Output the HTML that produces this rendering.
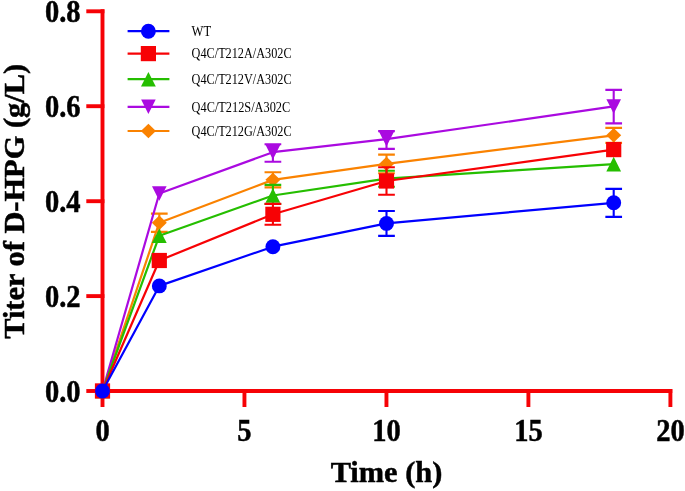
<!DOCTYPE html>
<html><head><meta charset="utf-8"><style>
html,body{margin:0;padding:0;background:#fff;width:685px;height:491px;overflow:hidden}
svg{display:block;filter:blur(0.3px)}
.lg{font-family:"Liberation Serif",serif;font-size:14px;fill:#000}
.tk{font-family:"Liberation Serif",serif;font-size:31px;font-weight:bold;fill:#000;stroke:#000;stroke-width:0.5px}
.ti{font-family:"Liberation Serif",serif;font-size:30.4px;font-weight:bold;fill:#000;stroke:#000;stroke-width:0.5px}
</style></head><body>
<svg width="685" height="491" viewBox="0 0 685 491">
<g stroke="#f60206" stroke-width="3.9" fill="none" stroke-linecap="butt">
<path d="M102.5,9.3 V393"/>
<path d="M100.55,391 H672.3"/>
<path d="M86.3,11.3 H104.4"/>
<path d="M86.3,106.2 H104.4"/>
<path d="M86.3,201.2 H104.4"/>
<path d="M86.3,296.1 H104.4"/>
<path d="M86.3,391.0 H104.4"/>
<path d="M102.5,389.1 V407"/>
<path d="M244.45,389.1 V407"/>
<path d="M386.45,389.1 V407"/>
<path d="M528.4,389.1 V407"/>
<path d="M670.4,389.1 V407"/>
</g>
<g>
<path d="M102.50,391.00 L159.30,222.70 L272.90,179.85 L386.50,163.90 L613.70,135.30" stroke="#fa8200" stroke-width="2.2" fill="none" stroke-linejoin="round"/>
<path d="M159.30,213.60 V231.90 M150.95,213.60 H167.65 M150.95,231.90 H167.65" stroke="#fa8200" stroke-width="2.1" fill="none"/>
<path d="M272.90,172.30 V187.40 M264.55,172.30 H281.25 M264.55,187.40 H281.25" stroke="#fa8200" stroke-width="2.1" fill="none"/>
<path d="M386.50,154.60 V173.20 M378.15,154.60 H394.85 M378.15,173.20 H394.85" stroke="#fa8200" stroke-width="2.1" fill="none"/>
<path d="M613.70,127.90 V142.90 M605.35,127.90 H622.05 M605.35,142.90 H622.05" stroke="#fa8200" stroke-width="2.1" fill="none"/>
<polygon points="102.50,383.80 110.00,391.00 102.50,398.20 95.00,391.00" fill="#fa8200"/>
<polygon points="159.30,215.50 166.80,222.70 159.30,229.90 151.80,222.70" fill="#fa8200"/>
<polygon points="272.90,172.65 280.40,179.85 272.90,187.05 265.40,179.85" fill="#fa8200"/>
<polygon points="386.50,156.70 394.00,163.90 386.50,171.10 379.00,163.90" fill="#fa8200"/>
<polygon points="613.70,128.10 621.20,135.30 613.70,142.50 606.20,135.30" fill="#fa8200"/>
</g>
<g>
<path d="M102.50,391.00 L159.30,193.50 L272.90,152.20 L386.50,139.20 L613.70,106.45" stroke="#aa0ae0" stroke-width="2.2" fill="none" stroke-linejoin="round"/>
<path d="M272.90,144.30 V161.80 M264.55,144.30 H281.25 M264.55,161.80 H281.25" stroke="#aa0ae0" stroke-width="2.1" fill="none"/>
<path d="M386.50,131.10 V148.90 M378.15,131.10 H394.85 M378.15,148.90 H394.85" stroke="#aa0ae0" stroke-width="2.1" fill="none"/>
<path d="M613.70,89.90 V123.40 M605.35,89.90 H622.05 M605.35,123.40 H622.05" stroke="#aa0ae0" stroke-width="2.1" fill="none"/>
<polygon points="95.20,383.80 109.80,383.80 102.50,398.20" fill="#aa0ae0"/>
<polygon points="152.00,186.30 166.60,186.30 159.30,200.70" fill="#aa0ae0"/>
<polygon points="265.60,145.00 280.20,145.00 272.90,159.40" fill="#aa0ae0"/>
<polygon points="379.20,132.00 393.80,132.00 386.50,146.40" fill="#aa0ae0"/>
<polygon points="606.40,99.25 621.00,99.25 613.70,113.65" fill="#aa0ae0"/>
</g>
<g>
<path d="M102.50,391.00 L159.30,235.80 L272.90,195.50 L386.50,178.70 L613.70,164.10" stroke="#25be00" stroke-width="2.2" fill="none" stroke-linejoin="round"/>
<path d="M272.90,184.90 V204.00 M264.55,184.90 H281.25 M264.55,204.00 H281.25" stroke="#25be00" stroke-width="2.1" fill="none"/>
<path d="M386.50,170.70 V186.70 M378.15,170.70 H394.85 M378.15,186.70 H394.85" stroke="#25be00" stroke-width="2.1" fill="none"/>
<polygon points="102.50,383.70 109.90,398.30 95.10,398.30" fill="#25be00"/>
<polygon points="159.30,228.50 166.70,243.10 151.90,243.10" fill="#25be00"/>
<polygon points="272.90,188.20 280.30,202.80 265.50,202.80" fill="#25be00"/>
<polygon points="386.50,171.40 393.90,186.00 379.10,186.00" fill="#25be00"/>
<polygon points="613.70,156.80 621.10,171.40 606.30,171.40" fill="#25be00"/>
</g>
<g>
<path d="M102.50,391.00 L159.30,260.50 L272.90,214.30 L386.50,181.00 L613.70,149.60" stroke="#f70205" stroke-width="2.2" fill="none" stroke-linejoin="round"/>
<path d="M272.90,203.90 V224.70 M264.55,203.90 H281.25 M264.55,224.70 H281.25" stroke="#f70205" stroke-width="2.1" fill="none"/>
<path d="M386.50,167.20 V194.80 M378.15,167.20 H394.85 M378.15,194.80 H394.85" stroke="#f70205" stroke-width="2.1" fill="none"/>
<rect x="94.90" y="383.40" width="15.2" height="15.2" fill="#f70205"/>
<rect x="151.70" y="252.90" width="15.2" height="15.2" fill="#f70205"/>
<rect x="265.30" y="206.70" width="15.2" height="15.2" fill="#f70205"/>
<rect x="378.90" y="173.40" width="15.2" height="15.2" fill="#f70205"/>
<rect x="606.10" y="142.00" width="15.2" height="15.2" fill="#f70205"/>
</g>
<g>
<path d="M102.50,391.00 L159.30,285.90 L272.90,246.70 L386.50,223.40 L613.70,202.80" stroke="#0000ff" stroke-width="2.2" fill="none" stroke-linejoin="round"/>
<path d="M386.50,211.00 V235.90 M378.15,211.00 H394.85 M378.15,235.90 H394.85" stroke="#0000ff" stroke-width="2.1" fill="none"/>
<path d="M613.70,188.90 V216.85 M605.35,188.90 H622.05 M605.35,216.85 H622.05" stroke="#0000ff" stroke-width="2.1" fill="none"/>
<circle cx="102.50" cy="391.00" r="7.45" fill="#0000ff"/>
<circle cx="159.30" cy="285.90" r="7.45" fill="#0000ff"/>
<circle cx="272.90" cy="246.70" r="7.45" fill="#0000ff"/>
<circle cx="386.50" cy="223.40" r="7.45" fill="#0000ff"/>
<circle cx="613.70" cy="202.80" r="7.45" fill="#0000ff"/>
</g>
<path d="M127.6,31.2 H169.4" stroke="#0000ff" stroke-width="2.2"/>
<circle cx="148.40" cy="31.20" r="7.45" fill="#0000ff"/>
<text x="191.6" y="36.0" class="lg" textLength="19.6" lengthAdjust="spacingAndGlyphs">WT</text>
<path d="M127.6,53.6 H169.4" stroke="#f70205" stroke-width="2.2"/>
<rect x="140.80" y="46.00" width="15.2" height="15.2" fill="#f70205"/>
<text x="191.6" y="58.4" class="lg" textLength="100" lengthAdjust="spacingAndGlyphs">Q4C/T212A/A302C</text>
<path d="M127.6,79.2 H169.4" stroke="#25be00" stroke-width="2.2"/>
<polygon points="148.40,71.90 155.80,86.50 141.00,86.50" fill="#25be00"/>
<text x="191.6" y="84.0" class="lg" textLength="100" lengthAdjust="spacingAndGlyphs">Q4C/T212V/A302C</text>
<path d="M127.6,106.8 H169.4" stroke="#aa0ae0" stroke-width="2.2"/>
<polygon points="141.10,99.60 155.70,99.60 148.40,114.00" fill="#aa0ae0"/>
<text x="191.6" y="111.6" class="lg" textLength="98.6" lengthAdjust="spacingAndGlyphs">Q4C/T212S/A302C</text>
<path d="M127.6,131.0 H169.4" stroke="#fa8200" stroke-width="2.2"/>
<polygon points="148.40,123.80 155.90,131.00 148.40,138.20 140.90,131.00" fill="#fa8200"/>
<text x="191.6" y="135.8" class="lg" textLength="100" lengthAdjust="spacingAndGlyphs">Q4C/T212G/A302C</text>
<text transform="translate(80.6,402.0) scale(0.92,1.0)" class="tk" text-anchor="end">0.0</text>
<text transform="translate(80.6,307.1) scale(0.92,1.0)" class="tk" text-anchor="end">0.2</text>
<text transform="translate(80.6,212.2) scale(0.92,1.0)" class="tk" text-anchor="end">0.4</text>
<text transform="translate(80.6,117.2) scale(0.92,1.0)" class="tk" text-anchor="end">0.6</text>
<text transform="translate(80.6,22.3) scale(0.92,1.0)" class="tk" text-anchor="end">0.8</text>
<text transform="translate(102.5,440.5) scale(0.92,1.0)" class="tk" text-anchor="middle">0</text>
<text transform="translate(244.45,440.5) scale(0.92,1.0)" class="tk" text-anchor="middle">5</text>
<text transform="translate(386.45,440.5) scale(0.92,1.0)" class="tk" text-anchor="middle">10</text>
<text transform="translate(528.4,440.5) scale(0.92,1.0)" class="tk" text-anchor="middle">15</text>
<text transform="translate(670.4,440.5) scale(0.92,1.0)" class="tk" text-anchor="middle">20</text>
<text x="386.5" y="482" class="ti" text-anchor="middle">Time (h)</text>
<text transform="translate(24.4,201.4) rotate(-90)" class="ti" text-anchor="middle">Titer of D-HPG (g/L)</text>
</svg>
</body></html>
